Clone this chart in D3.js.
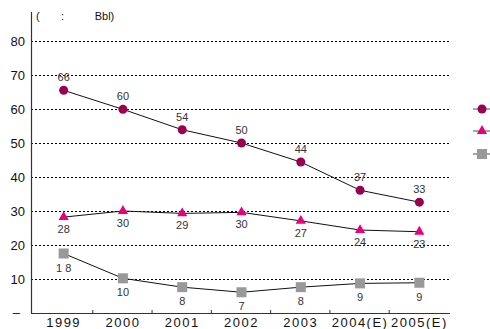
<!DOCTYPE html>
<html>
  <head>
    <meta charset="utf-8">
    <script type="text/javascript" src="https://d3js.org/d3.v7.min.js"></script>
    <style>
      body { margin:0; background:#fff; }
      text { font-family: "Liberation Sans", Arial, sans-serif; }
    </style>
  </head>
  <body>
  </body>
  <script>

var years = ['1999','2000','2001','2002','2003','2004(E)','2005(E)'];
var yTicks = [10,20,30,40,50,60,70,80];

// plotted values and the printed labels
var circVals = [65.5, 59.9, 53.9, 50.0, 44.4, 36.1, 32.6];
var circLabels = ['66','60','54','50','44','37','33'];
var triVals = [28.2, 30.0, 29.3, 29.6, 27.1, 24.4, 23.9];
var triLabels = ['28','30','29','30','27','24','23'];
var sqVals = [17.5, 10.2, 7.6, 6.1, 7.6, 8.7, 8.9];
var sqLabels = ['1 8','10','8','7','8','9','9'];

var W = 490, H = 329;
var svg = d3.select('body').append('svg').attr('width', W).attr('height', H);

var x = d3.scaleBand().domain(years).range([34, 449]);
var y = d3.scaleLinear().domain([0, 80]).range([313, 41]);
var cx = function(i){ return x(years[i]) + x.bandwidth()/2; };

// grid
svg.selectAll('line.grid').data(yTicks).enter().append('line')
  .attr('x1', 31).attr('x2', 449)
  .attr('y1', function(d){ return y(d)+0.5; }).attr('y2', function(d){ return y(d)+0.5; })
  .attr('stroke', '#000').attr('stroke-width', 1).attr('stroke-dasharray', '2,2');

// y axis
svg.append('line').attr('x1', 31.5).attr('x2', 31.5).attr('y1', 12).attr('y2', 313)
  .attr('stroke', '#333').attr('stroke-width', 1.2);
svg.selectAll('text.yl').data(yTicks).enter().append('text')
  .attr('x', 25).attr('y', function(d){ return y(d)+5; })
  .attr('text-anchor', 'end').attr('font-size', 13).attr('fill', '#111')
  .text(function(d){ return d; });
svg.append('text').attr('x', 20).attr('y', y(0)+4).attr('text-anchor','end')
  .attr('font-size', 13).attr('fill','#111').text('–');

// x axis
svg.append('line').attr('x1', 31).attr('x2', 450).attr('y1', 313.5).attr('y2', 313.5)
  .attr('stroke', '#333').attr('stroke-width', 1.2);
svg.selectAll('line.xt').data(years.slice(1)).enter().append('line')
  .attr('x1', function(d){ return x(d) - 0.5; }).attr('x2', function(d){ return x(d) - 0.5; })
  .attr('y1', 310).attr('y2', 313).attr('stroke', '#333');
svg.selectAll('text.xl').data(years).enter().append('text')
  .attr('x', function(d, i){ return cx(i); }).attr('y', 327)
  .attr('text-anchor', 'middle').attr('font-size', 13).attr('fill', '#111')
  .attr('letter-spacing', 1.5)
  .text(function(d){ return d; });

// unit label
svg.append('text').attr('x', 36).attr('y', 20).attr('font-size', 11).attr('fill', '#111')
  .attr('xml:space', 'preserve').style('white-space', 'pre')
  .text('(       :          Bbl)');

var line = d3.line().x(function(d, i){ return cx(i); }).y(function(d){ return y(d); });

function series(vals, labels, shape, color, dy) {
  svg.append('path').datum(vals).attr('d', line)
    .attr('fill', 'none').attr('stroke', '#111').attr('stroke-width', 1);
  var g = svg.selectAll(null).data(vals).enter().append('g')
    .attr('transform', function(d, i){ return 'translate(' + cx(i) + ',' + y(d) + ')'; });
  if (shape === 'circle') g.append('circle').attr('r', 4.5).attr('fill', color);
  if (shape === 'tri') g.append('path').attr('d', d3.symbol().type(d3.symbolTriangle).size(45)).attr('fill', color);
  if (shape === 'sq') g.append('rect').attr('x', -5).attr('y', -5).attr('width', 10).attr('height', 10).attr('fill', color);
  g.append('text').attr('y', dy).attr('text-anchor', 'middle').attr('font-size', 11).attr('fill', '#333')
    .text(function(d, i){ return labels[i]; });
}

series(circVals, circLabels, 'circle', '#990050', -9);
series(triVals, triLabels, 'tri', '#e6007e', 16);
series(sqVals, sqLabels, 'sq', '#999999', 18);

// legend
var legY = [109, 131, 154];
var legShapes = ['circle', 'tri', 'sq'];
var legColors = ['#990050', '#e6007e', '#999999'];
legY.forEach(function(ly, k){
  svg.append('line').attr('x1', 473).attr('x2', 490).attr('y1', ly).attr('y2', ly)
    .attr('stroke', '#888').attr('stroke-width', 1.5);
  var g = svg.append('g').attr('transform', 'translate(482,' + ly + ')');
  if (legShapes[k] === 'circle') g.append('circle').attr('r', 4.5).attr('fill', legColors[k]);
  if (legShapes[k] === 'tri') g.append('path').attr('d', d3.symbol().type(d3.symbolTriangle).size(45)).attr('fill', legColors[k]);
  if (legShapes[k] === 'sq') g.append('rect').attr('x', -5).attr('y', -5).attr('width', 10).attr('height', 10).attr('fill', legColors[k]);
});

  </script>
</html>
